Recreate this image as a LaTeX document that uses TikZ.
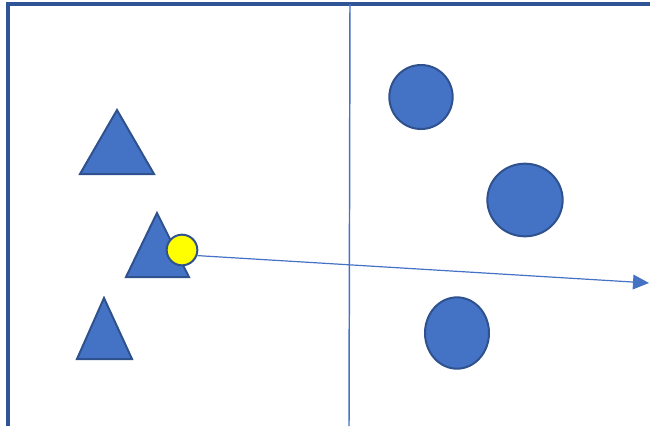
\documentclass[tikz,border=0pt]{standalone}
\usetikzlibrary{arrows.meta,shapes.geometric}
\definecolor{fillblue}{HTML}{4472C4}
\definecolor{edgeblue}{HTML}{2F528F}
\definecolor{frameblue}{HTML}{2F5597}
\definecolor{yel}{HTML}{FFFF00}
\begin{document}
\begin{tikzpicture}[x=0.75pt,y=-0.75pt,
  shapestyle/.style={fill=fillblue,draw=edgeblue,line width=1.5pt,line join=miter},
  blob/.style={ellipse,shapestyle,inner sep=0pt},
  frame/.style={draw=frameblue,line width=2.6pt},
  divider/.style={draw=fillblue,line width=1.1pt},
  pointer/.style={draw=fillblue,line width=0.9pt,-{Triangle[length=12pt,width=11pt]}}]
\useasboundingbox (0,0) rectangle (650,426);
% frame
\draw[frame] (8,426) -- (8,4) -- (650,4);
% divider
\draw[divider] (350,4) -- (349,426);
% triangles
\draw[shapestyle] (117,110) -- (154,174) -- (80,174) -- cycle;
\draw[shapestyle] (157,213) -- (189,277) -- (126,277) -- cycle;
\draw[shapestyle] (104,298) -- (132,359) -- (77,359) -- cycle;
% circles
\node[blob,minimum width=47.5pt,minimum height=48pt] (c1) at (421,97) {};
\node[blob,minimum width=56.5pt,minimum height=54.5pt] (c2) at (525,200) {};
\node[blob,minimum width=48pt,minimum height=53.5pt] (c3) at (457,333) {};
% yellow point and arrow
\node[circle,fill=yel,draw=edgeblue,line width=1.5pt,minimum size=23pt,inner sep=0pt] (yp) at (182,250) {};
\coordinate (tip) at (649,283);
\draw[pointer] (yp.-20) -- (tip);
\end{tikzpicture}
\end{document}
